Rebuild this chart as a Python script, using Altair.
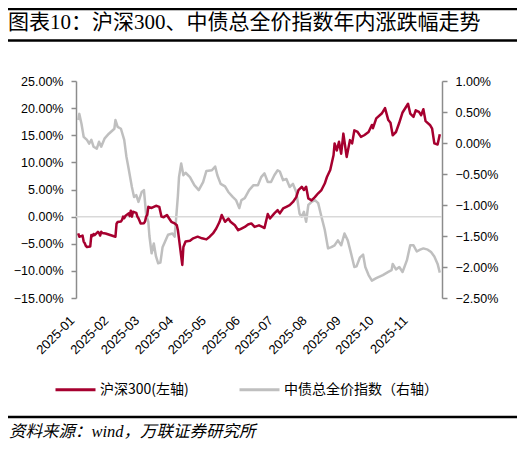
import altair as alt
import pandas as pd

TITLE = "图表10：沪深300、中债总全价指数年内涨跌幅走势"
SOURCE = "资料来源：wind，万联证券研究所"
SERIES = ["沪深300(左轴)", "中债总全价指数（右轴）"]
COLORS = ["#A6002F", "#BFBFBF"]

hs300_dates = [
    "2025-01-02", "2025-01-03", "2025-01-06", "2025-01-07", "2025-01-08", "2025-01-09", "2025-01-10",
    "2025-01-13", "2025-01-14", "2025-01-15", "2025-01-16", "2025-01-17", "2025-01-20", "2025-01-21",
    "2025-01-22", "2025-01-23", "2025-01-24", "2025-01-27", "2025-02-05", "2025-02-06", "2025-02-07",
    "2025-02-10", "2025-02-11", "2025-02-12", "2025-02-13", "2025-02-14", "2025-02-17", "2025-02-18",
    "2025-02-19", "2025-02-20", "2025-02-21", "2025-02-24", "2025-02-25", "2025-02-26", "2025-02-28",
    "2025-03-03", "2025-03-04", "2025-03-05", "2025-03-06", "2025-03-07", "2025-03-10", "2025-03-12",
    "2025-03-14", "2025-03-17", "2025-03-18", "2025-03-19", "2025-03-21", "2025-03-24", "2025-03-26",
    "2025-03-28", "2025-03-31", "2025-04-02", "2025-04-03", "2025-04-07", "2025-04-08", "2025-04-10",
    "2025-04-14", "2025-04-17", "2025-04-21", "2025-04-25", "2025-04-29", "2025-05-02", "2025-05-05",
    "2025-05-08", "2025-05-11", "2025-05-13", "2025-05-16", "2025-05-19", "2025-05-21", "2025-05-25",
    "2025-05-28", "2025-05-31", "2025-06-03", "2025-06-06", "2025-06-09", "2025-06-12", "2025-06-16",
    "2025-06-19", "2025-06-21", "2025-06-24", "2025-06-26", "2025-06-30", "2025-07-03", "2025-07-05",
    "2025-07-08", "2025-07-11", "2025-07-14", "2025-07-17", "2025-07-20", "2025-07-22", "2025-07-25",
    "2025-07-27", "2025-07-29", "2025-07-31", "2025-08-03", "2025-08-06", "2025-08-09", "2025-08-12",
    "2025-08-15", "2025-08-17", "2025-08-20", "2025-08-23", "2025-08-24", "2025-08-26", "2025-08-28",
    "2025-08-30", "2025-09-01", "2025-09-04", "2025-09-07", "2025-09-09", "2025-09-11", "2025-09-14",
    "2025-09-17", "2025-09-20", "2025-09-24", "2025-09-27", "2025-09-28", "2025-10-01", "2025-10-06",
    "2025-10-09", "2025-10-12", "2025-10-14", "2025-10-16", "2025-10-19", "2025-10-22", "2025-10-25",
    "2025-10-30", "2025-11-01", "2025-11-04", "2025-11-06", "2025-11-09", "2025-11-11", "2025-11-13",
    "2025-11-15", "2025-11-19", "2025-11-21", "2025-11-23", "2025-11-26", "2025-11-28",
]
hs300_values = [
    -3.1, -3.7, -3.5, -4.6, -4.9, -5.4, -5.6,
    -5.5, -3.4, -3.6, -3.2, -3.4, -2.8, -3.0,
    -3.5, -2.8, -3.0, -3.1, -3.7, -1.3, -1.0,
    -0.9, -0.6, 0.0, -0.3, 0.1, 0.6, 0.1,
    1.1, 0.0, 0.9, 0.7, 0.0, -0.3, -1.25,
    -1.2, -0.9, 0.0, 0.3, 1.8, 1.6, 1.8,
    2.0, 1.8, 0.9, 0.0, -0.1, 0.3, -0.35,
    -0.95, -1.25, -1.6, -2.5, -8.9, -5.6, -4.6,
    -4.45, -4.0, -3.7, -4.0, -4.2, -3.7, -3.1,
    -2.2, -0.95, 0.3, -0.95, -0.35, -0.95, -1.6,
    -2.5, -2.2, -1.9, -1.45, -1.25, -1.9, -1.6,
    -1.9, -2.1, 0.5, -0.35, 0.6, 1.2, 0.6,
    1.5, 1.8, 2.1, 2.7, 3.6, 4.9, 5.5,
    4.9, 5.5, 3.35, 3.0, 3.6, 4.3, 4.9,
    6.1, 7.3, 8.6, 11.3, 13.5, 12.2, 13.8,
    11.6, 15.3, 11.0, 14.1, 13.5, 15.9, 15.6,
    14.7, 15.0, 15.6, 16.9, 16.3, 18.1, 19.0,
    20.0, 17.8, 17.3, 15.0, 15.6, 17.3, 19.2,
    20.8, 19.0, 18.4, 19.6, 19.3, 18.7, 19.8,
    17.6, 16.9, 16.2, 13.5, 13.3, 15.2,
]

bond_dates = [
    "2025-01-02", "2025-01-03", "2025-01-05", "2025-01-07", "2025-01-10", "2025-01-12", "2025-01-14",
    "2025-01-16", "2025-01-19", "2025-01-21", "2025-01-23", "2025-01-26", "2025-01-30", "2025-02-04",
    "2025-02-05", "2025-02-07", "2025-02-10", "2025-02-13", "2025-02-15", "2025-02-17", "2025-02-20",
    "2025-02-22", "2025-02-24", "2025-02-26", "2025-03-01", "2025-03-03", "2025-03-05", "2025-03-07",
    "2025-03-08", "2025-03-10", "2025-03-12", "2025-03-14", "2025-03-16", "2025-03-18", "2025-03-20",
    "2025-03-22", "2025-03-25", "2025-03-29", "2025-03-31", "2025-04-01", "2025-04-03", "2025-04-04",
    "2025-04-06", "2025-04-08", "2025-04-10", "2025-04-14", "2025-04-18", "2025-04-22", "2025-04-26",
    "2025-04-29", "2025-05-04", "2025-05-07", "2025-05-09", "2025-05-12", "2025-05-16", "2025-05-19",
    "2025-05-23", "2025-05-26", "2025-05-29", "2025-05-31", "2025-06-03", "2025-06-07", "2025-06-11",
    "2025-06-15", "2025-06-18", "2025-06-21", "2025-06-24", "2025-06-27", "2025-06-30", "2025-07-03",
    "2025-07-05", "2025-07-08", "2025-07-11", "2025-07-14", "2025-07-17", "2025-07-20", "2025-07-23",
    "2025-07-25", "2025-07-27", "2025-07-29", "2025-07-31", "2025-08-03", "2025-08-06", "2025-08-09",
    "2025-08-12", "2025-08-15", "2025-08-18", "2025-08-21", "2025-08-24", "2025-08-27", "2025-08-30",
    "2025-09-02", "2025-09-05", "2025-09-08", "2025-09-11", "2025-09-13", "2025-09-16", "2025-09-19",
    "2025-09-21", "2025-09-24", "2025-09-27", "2025-10-01", "2025-10-07", "2025-10-12", "2025-10-15",
    "2025-10-16", "2025-10-19", "2025-10-22", "2025-10-25", "2025-10-29", "2025-11-01", "2025-11-04",
    "2025-11-07", "2025-11-10", "2025-11-13", "2025-11-17", "2025-11-20", "2025-11-23", "2025-11-26",
    "2025-11-28",
]
bond_values = [
    0.37, 0.47, 0.31, 0.10, 0.05, -0.01, 0.05,
    -0.06, -0.09, 0.02, -0.06, 0.07, 0.15, 0.23,
    0.37, 0.26, 0.23, 0.05, -0.22, -0.41, -0.71,
    -0.87, -0.84, -0.95, -0.79, -0.76, -1.15, -1.27,
    -1.50, -1.78, -1.62, -1.83, -1.94, -1.93, -1.68,
    -1.60, -1.48, -1.46, -1.51, -1.30, -0.85, -0.55,
    -0.33, -0.52, -0.48, -0.55, -0.68, -0.76, -0.63,
    -0.45, -0.44, -0.38, -0.52, -0.66, -0.70, -0.79,
    -0.87, -0.92, -1.05, -0.92, -0.89, -0.76, -0.68,
    -0.68, -0.55, -0.49, -0.63, -0.63, -0.52, -0.44,
    -0.46, -0.60, -0.58, -0.71, -0.66, -0.79, -1.14,
    -1.19, -1.11, -1.27, -1.00, -0.95, -0.92, -0.97,
    -1.19, -1.40, -1.70, -1.68, -1.65, -1.57, -1.65,
    -1.46, -1.57, -1.78, -2.00, -1.99, -1.85, -1.80,
    -2.00, -2.13, -2.22, -2.18, -2.13, -2.08, -2.05,
    -1.95, -2.04, -2.00, -2.08, -1.89, -1.65, -1.65,
    -1.75, -1.72, -1.70, -1.72, -1.76, -1.83, -1.95,
    -2.09,
]

left_ticks = [-15, -10, -5, 0, 5, 10, 15, 20, 25]
right_ticks = [-2.5, -2.0, -1.5, -1.0, -0.5, 0.0, 0.5, 1.0]
tick_months = list(range(1, 12))

df_a = pd.DataFrame({"date": hs300_dates, "value": hs300_values, "series": SERIES[0]})
df_b = pd.DataFrame({"date": bond_dates, "value": bond_values, "series": SERIES[1]})

AX_FONT = "Liberation Sans"
CJK = "Noto Sans CJK SC"
SERIF = "Liberation Serif, Noto Sans CJK SC"

x_enc = alt.X(
    "date:T",
    scale=alt.Scale(
        type="utc",
        domain=[alt.DateTime(year=2024, month=12, date=31, utc=True),
                alt.DateTime(year=2025, month=11, date=30, utc=True)],
    ),
    axis=alt.Axis(
        values=[alt.DateTime(year=2025, month=m, date=1, utc=True) for m in tick_months],
        labelExpr="utcFormat(datum.value, '%Y-%m')",
        labelAngle=-45, labelAlign="right", labelBaseline="middle",
        labelPadding=20, labelOffset=-5, labelOverlap=False, labelBound=False,
        domain=False, ticks=False, grid=False, title=None,
        labelFont=AX_FONT, labelFontSize=13, labelColor="#000",
    ),
)

color_enc = alt.Color(
    "series:N",
    scale=alt.Scale(domain=SERIES, range=COLORS),
    legend=alt.Legend(
        orient="none", legendX=-22, legendY=287, direction="horizontal", title=None,
        symbolType="stroke", symbolSize=1600, symbolStrokeWidth=3,
        labelFont=CJK, labelFontSize=14, labelColor="#000", labelOffset=3,
        columnPadding=44, padding=0,
    ),
)

def axis_style(orient, ticks):
    return alt.Axis(
        orient=orient, values=ticks, title=None, grid=False,
        labelExpr="format(datum.value, '.2f') + '%'",
        domainColor="#8C8C8C", domainWidth=1.5, tickColor="#8C8C8C", tickWidth=1.5,
        tickSize=5, labelPadding=8, labelFont=AX_FONT, labelFontSize=12.5, labelColor="#000",
    )

zero_rule = alt.Chart(pd.DataFrame({"v": [0]})).mark_rule(color="#D9D9D9", strokeWidth=1.5).encode(
    y=alt.Y("v:Q", scale=alt.Scale(domain=[-15, 25], nice=False, zero=False), axis=axis_style("left", left_ticks))
)
red_line = alt.Chart(df_a).mark_line(strokeWidth=2.5, strokeJoin="round").encode(
    x=x_enc,
    y=alt.Y("value:Q", scale=alt.Scale(domain=[-15, 25], nice=False, zero=False), axis=axis_style("left", left_ticks)),
    color=color_enc,
)
gray_line = alt.Chart(df_b).mark_line(strokeWidth=2.5, strokeJoin="round").encode(
    x=x_enc,
    y=alt.Y("value:Q", scale=alt.Scale(domain=[-2.5, 1.0], nice=False, zero=False), axis=axis_style("right", right_ticks)),
    color=color_enc,
)

left_layer = alt.layer(zero_rule, red_line)

blank = alt.Data(values=[{}])

def hline(y, x1, x2, w):
    return alt.Chart(blank).mark_rule(color="#000", strokeWidth=w).encode(
        x=alt.value(x1), x2=alt.value(x2), y=alt.value(y)
    )

def label(txt, x, y, size, font, style="normal"):
    return alt.Chart(blank).mark_text(
        text=txt, font=font, fontSize=size, fontStyle=style, align="left",
        baseline="middle", color="#000", clip=False,
    ).encode(x=alt.value(x), y=alt.value(y))

chart = alt.layer(
    gray_line,
    left_layer,
    hline(-72, -68, 441, 2.5),
    label(TITLE, -68, -58, 21, SERIF),
    hline(-40.5, -68, 441, 2.5),
    hline(336, -68, 441, 2.5),
    label(SOURCE, -67, 351, 16.5, SERIF, "italic"),
).resolve_scale(y="independent").properties(
    width=366, height=217,
    padding={"left": 68, "top": 73, "right": 76, "bottom": 143},
    autosize=alt.AutoSizeParams(type="none"),
    background="white",
).configure_view(stroke=None)

chart.save("out.html", embed_options={"renderer": "svg", "actions": False})
